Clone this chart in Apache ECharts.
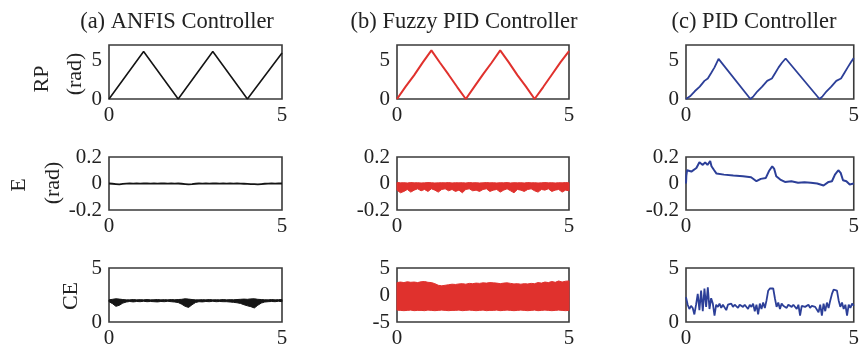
<!DOCTYPE html>
<html>
<head>
<meta charset="utf-8">
<script src="https://cdn.jsdelivr.net/npm/echarts@6/dist/echarts.min.js"></script>
<style>
html, body { margin: 0; padding: 0; background: #fff; }
#main { width: 862px; height: 352px; }
</style>
</head>
<body>
<div id="main"></div>
<script>
// 标题
var panelTitles = ['(a) ANFIS Controller', '(b) Fuzzy PID Controller', '(c) PID Controller'];
var colorList = ['#151515', '#e0312d', '#2c3f98'];

// RP 三角波
var rpTimeA = [0, 1, 2, 3, 4, 5];
var rpA = [0, 6.15, 0, 6.15, 0, 5.97];
var rpTimeB = [0, 0.25, 0.5, 0.75, 1, 1.25, 1.5, 1.75, 2, 2.25, 2.5, 2.75, 3, 3.25, 3.5, 3.75, 4, 4.25, 4.5, 4.75, 5];
var rpB = [0, 1.6, 3.1, 4.75, 6.3, 4.7, 3.15, 1.55, 0, 1.6, 3.2, 4.7, 6.3, 4.75, 3.1, 1.6, 0, 1.55, 3.15, 4.75, 6.2];
var rpTimeC = [0, 0.12, 0.26, 0.41, 0.55, 0.65, 0.75, 0.85, 0.97, 1.92, 2.01, 2.13, 2.27, 2.42, 2.56, 2.66, 2.76, 2.86, 2.97, 3.98, 4.07, 4.19, 4.33, 4.48, 4.62, 4.72, 4.82, 4.92, 5];
var rpC = [0, 0.35, 1.0, 1.6, 2.35, 2.65, 3.37, 4.1, 5.2, 0, 0.35, 1.0, 1.6, 2.35, 2.65, 3.37, 4.1, 4.7, 5.25, 0, 0.35, 1.0, 1.6, 2.35, 2.65, 3.37, 4.1, 4.8, 5.3];

// 噪声曲线采样时间 0.1s
var timeStep10 = [0, 0.1, 0.2, 0.3, 0.4, 0.5, 0.6, 0.7, 0.8, 0.9, 1, 1.1, 1.2, 1.3, 1.4, 1.5, 1.6, 1.7, 1.8, 1.9, 2, 2.1, 2.2, 2.3, 2.4, 2.5, 2.6, 2.7, 2.8, 2.9, 3, 3.1, 3.2, 3.3, 3.4, 3.5, 3.6, 3.7, 3.8, 3.9, 4, 4.1, 4.2, 4.3, 4.4, 4.5, 4.6, 4.7, 4.8, 4.9, 5];

// E
var eA = [0, -0.002, -0.004, -0.006, -0.003, -0.001, 0, -0.001, 0, -0.001, 0, 0, -0.001, 0, -0.001, 0, 0, -0.001, 0, -0.001, 0, -0.002, -0.004, -0.007, -0.005, -0.002, 0, -0.001, 0, -0.001, 0, 0, -0.001, 0, -0.001, 0, -0.001, 0, -0.001, -0.002, -0.003, -0.004, -0.005, -0.007, -0.004, -0.002, -0.001, 0, -0.001, 0, 0];
var eBUpper = [0.008, 0.005, 0.006, 0.004, 0.007, 0.005, 0.006, 0.004, 0.005, 0.007, 0.006, 0.004, 0.005, 0.006, 0.005, 0.007, 0.004, 0.006, 0.005, 0.006, 0.004, 0.007, 0.005, 0.006, 0.004, 0.005, 0.007, 0.005, 0.006, 0.004, 0.006, 0.005, 0.007, 0.004, 0.006, 0.005, 0.006, 0.004, 0.007, 0.005, 0.006, 0.004, 0.005, 0.007, 0.005, 0.006, 0.004, 0.006, 0.005, 0.007, 0.005];
var eBLower = [-0.05, -0.07, -0.06, -0.045, -0.065, -0.05, -0.04, -0.055, -0.045, -0.06, -0.04, -0.05, -0.065, -0.045, -0.04, -0.055, -0.045, -0.06, -0.05, -0.07, -0.045, -0.04, -0.055, -0.05, -0.06, -0.045, -0.04, -0.06, -0.05, -0.045, -0.065, -0.05, -0.04, -0.055, -0.07, -0.045, -0.05, -0.06, -0.045, -0.04, -0.055, -0.065, -0.045, -0.05, -0.04, -0.06, -0.05, -0.045, -0.065, -0.05, -0.055];
var eTimeC = [0, 0.01, 0.03, 0.16, 0.31, 0.4, 0.5, 0.57, 0.64, 0.72, 0.76, 0.84, 0.91, 1.13, 1.41, 1.7, 1.94, 2.1, 2.23, 2.38, 2.47, 2.57, 2.63, 2.69, 2.81, 2.95, 3.14, 3.34, 3.53, 3.72, 3.91, 4.1, 4.25, 4.35, 4.44, 4.54, 4.61, 4.68, 4.78, 4.88, 5];
var eC = [0, 0.06, 0.1, 0.09, 0.117, 0.16, 0.14, 0.16, 0.14, 0.17, 0.13, 0.1, 0.075, 0.067, 0.06, 0.055, 0.047, 0.017, 0.035, 0.042, 0.092, 0.13, 0.11, 0.055, 0.03, 0.012, 0.017, 0.005, 0.01, 0.005, 0, -0.015, 0.012, 0.017, 0.067, 0.1, 0.08, 0.025, 0.017, -0.007, 0];

// CE
var ceAUpper = [2.05, 2.1, 2.15, 2.12, 2.08, 2.05, 2.05, 2.08, 2.05, 2.07, 2.05, 2.08, 2.05, 2.06, 2.08, 2.05, 2.07, 2.05, 2.08, 2.06, 2.08, 2.1, 2.15, 2.12, 2.08, 2.05, 2.05, 2.07, 2.05, 2.08, 2.05, 2.06, 2.05, 2.08, 2.05, 2.07, 2.06, 2.08, 2.1, 2.12, 2.1, 2.14, 2.15, 2.1, 2.08, 2.06, 2.05, 2.08, 2.05, 2.07, 2.08];
var ceALower = [1.88, 1.7, 1.45, 1.55, 1.75, 1.85, 1.9, 1.86, 1.9, 1.88, 1.92, 1.88, 1.9, 1.88, 1.86, 1.9, 1.88, 1.92, 1.88, 1.85, 1.8, 1.65, 1.45, 1.35, 1.6, 1.8, 1.88, 1.86, 1.9, 1.88, 1.92, 1.88, 1.9, 1.88, 1.88, 1.85, 1.82, 1.78, 1.72, 1.6, 1.5, 1.42, 1.3, 1.55, 1.75, 1.85, 1.88, 1.9, 1.88, 1.92, 1.88];
var ceBUpper = [2.3, 2.4, 2.3, 2.45, 2.35, 2.4, 2.3, 2.45, 2.5, 2.35, 2.3, 2.1, 1.8, 1.7, 1.8, 1.9, 2.0, 1.95, 2.05, 2.1, 2.0, 2.15, 2.1, 2.2, 2.15, 2.25, 2.2, 2.3, 2.25, 2.2, 2.1, 2.2, 2.25, 2.15, 2.05, 2.1, 2.0, 2.1, 2.05, 2.15, 2.1, 2.3, 2.2, 2.4, 2.3, 2.5, 2.35, 2.6, 2.4, 2.55, 2.6];
var ceBLower = [-2.8, -2.85, -2.9, -2.85, -2.8, -2.9, -2.85, -2.85, -2.9, -2.8, -2.85, -2.9, -2.85, -2.8, -2.85, -2.9, -2.85, -2.85, -2.8, -2.9, -2.85, -2.8, -2.85, -2.9, -2.85, -2.8, -2.9, -2.85, -2.85, -2.8, -2.9, -2.85, -2.8, -2.85, -2.9, -2.85, -2.8, -2.85, -2.9, -2.85, -2.8, -2.9, -2.85, -2.8, -2.85, -2.9, -2.85, -2.8, -2.85, -2.9, -2.85];
// PID CE 采样 0.05s
var ceC = [2.3, 1.6, 1.2, 1.5, 1.3, 0.7, 1.6, 2.6, 1.1, 2.9, 1.0, 3.1, 1.4, 3.2, 1.2, 2.2, 1.7, 0.6, 1.6, 1.4,
    1.7, 1.3, 1.6, 1.5, 1.1, 1.6, 1.5, 1.7, 1.4, 1.6, 1.5, 1.3, 1.6, 1.5, 1.4, 1.6, 1.5, 1.2, 1.6, 1.4,
    1.7, 1.0, 1.6, 0.7, 1.7, 1.2, 1.8, 1.3, 2.0, 2.9, 3.1, 3.0, 3.1, 2.2, 1.4, 1.8, 1.2, 1.7, 1.5, 1.6,
    1.3, 1.6, 1.5, 1.4, 1.6, 1.5, 1.2, 1.6, 0.6, 1.5, 1.6, 1.4, 1.5, 1.6, 1.3, 1.5, 1.6, 1.4, 1.5, 0.9,
    1.6, 0.6, 1.7, 1.0, 1.8, 1.3, 2.0, 2.6, 3.0, 3.1, 2.9, 2.0, 1.4, 1.8, 1.2, 1.6, 0.6, 1.6, 1.3, 1.7, 1.5];

// 轴刻度
var yRange = [[0, 7, 5], [-0.2, 0.2, 0.2], [0, 5, 5]];
var yRangeCEB = [-5, 5, 5];

function pairs(t, v) {
    return t.map(function (x, i) { return [x, v[i]]; });
}

var ceTimeC = ceC.map(function (v, i) { return +(i * 0.05).toFixed(2); });

var gridLeft = [109, 397, 686];
var gridWidth = [173, 172, 171];
var gridTop = [45, 157, 268];
var gridHeight = [54, 53, 54];

var font = '"Liberation Serif", "Times New Roman", serif';

var grids = [], xAxes = [], yAxes = [];
for (var r = 0; r < 3; r++) {
    for (var c = 0; c < 3; c++) {
        grids.push({
            left: gridLeft[c], top: gridTop[r], width: gridWidth[c], height: gridHeight[r],
            show: true, borderColor: '#3a3a3a', borderWidth: 1.6, backgroundColor: 'transparent',
            containLabel: false
        });
        var gi = r * 3 + c;
        xAxes.push({
            type: 'value', gridIndex: gi, min: 0, max: 5, interval: 5,
            axisLine: { show: false }, axisTick: { show: false }, splitLine: { show: false },
            axisLabel: { fontSize: 21, fontFamily: font, color: '#222', margin: 6 }
        });
        var yr = (r == 2 && c == 1) ? yRangeCEB : yRange[r];
        yAxes.push({
            type: 'value', gridIndex: gi, min: yr[0], max: yr[1], interval: yr[2],
            axisLine: { show: false }, axisTick: { show: false }, splitLine: { show: false },
            axisLabel: { fontSize: 21, fontFamily: font, color: '#222', margin: 7, showMaxLabel: r == 0 ? false : true }
        });
    }
}

function lineSeries(gi, data, color, width) {
    return {
        type: 'line', xAxisIndex: gi, yAxisIndex: gi, data: data,
        showSymbol: false, symbol: 'none', animation: false,
        lineStyle: { color: color, width: width }
    };
}

// 带状噪声: 上下包络合成一个多边形
function bandSeries(gi, t, upper, lower, color) {
    var rows = t.map(function (x, i) { return [x, lower[i], upper[i]]; });
    return {
        type: 'custom', xAxisIndex: gi, yAxisIndex: gi, data: rows, animation: false,
        encode: { x: 0, y: [1, 2] },
        renderItem: function (params, api) {
            if (params.dataIndex !== 0) return;
            var pts = [];
            for (var i = 0; i < rows.length; i++) pts.push(api.coord([rows[i][0], rows[i][2]]));
            for (var j = rows.length - 1; j >= 0; j--) pts.push(api.coord([rows[j][0], rows[j][1]]));
            return {
                type: 'polygon',
                shape: { points: pts },
                style: { fill: color, stroke: color, lineWidth: 1 }
            };
        }
    };
}

var series = [];
series.push(lineSeries(0, pairs(rpTimeA, rpA), colorList[0], 1.6));
series.push(lineSeries(1, pairs(rpTimeB, rpB), colorList[1], 2));
series.push(lineSeries(2, pairs(rpTimeC, rpC), colorList[2], 1.8));
series.push(lineSeries(3, pairs(timeStep10, eA), colorList[0], 1.8));
series.push(bandSeries(4, timeStep10, eBUpper, eBLower, colorList[1]));
series.push(lineSeries(5, pairs(eTimeC, eC), colorList[2], 2));
series.push(bandSeries(6, timeStep10, ceAUpper, ceALower, colorList[0]));
series.push(bandSeries(7, timeStep10, ceBUpper, ceBLower, colorList[1]));
series.push(lineSeries(8, pairs(ceTimeC, ceC), colorList[2], 1.8));

function txt(x, y, s, size, rot) {
    return {
        type: 'text', x: x, y: y, rotation: rot || 0,
        style: {
            text: s, font: size + 'px ' + font, fill: '#222',
            textAlign: 'center', textVerticalAlign: 'middle', align: 'center', verticalAlign: 'middle'
        }
    };
}
var R = Math.PI / 2;
var graphics = [
    txt(177, 22, panelTitles[0], 22.5),
    txt(464, 22, panelTitles[1], 22.5),
    txt(754, 22, panelTitles[2], 22.5),
    txt(42, 79, 'RP', 22, R),
    txt(75, 74, '(rad)', 22, R),
    txt(19, 185, 'E', 22, R),
    txt(53, 183, '(rad)', 22, R),
    txt(71, 296, 'CE', 22, R)
];

var myChart = echarts.init(document.getElementById('main'));
var option = {
    animation: false,
    backgroundColor: '#fff',
    grid: grids,
    xAxis: xAxes,
    yAxis: yAxes,
    graphic: graphics,
    series: series
};
myChart.setOption(option, true);
window.onresize = myChart.resize;
</script>
</body>
</html>
